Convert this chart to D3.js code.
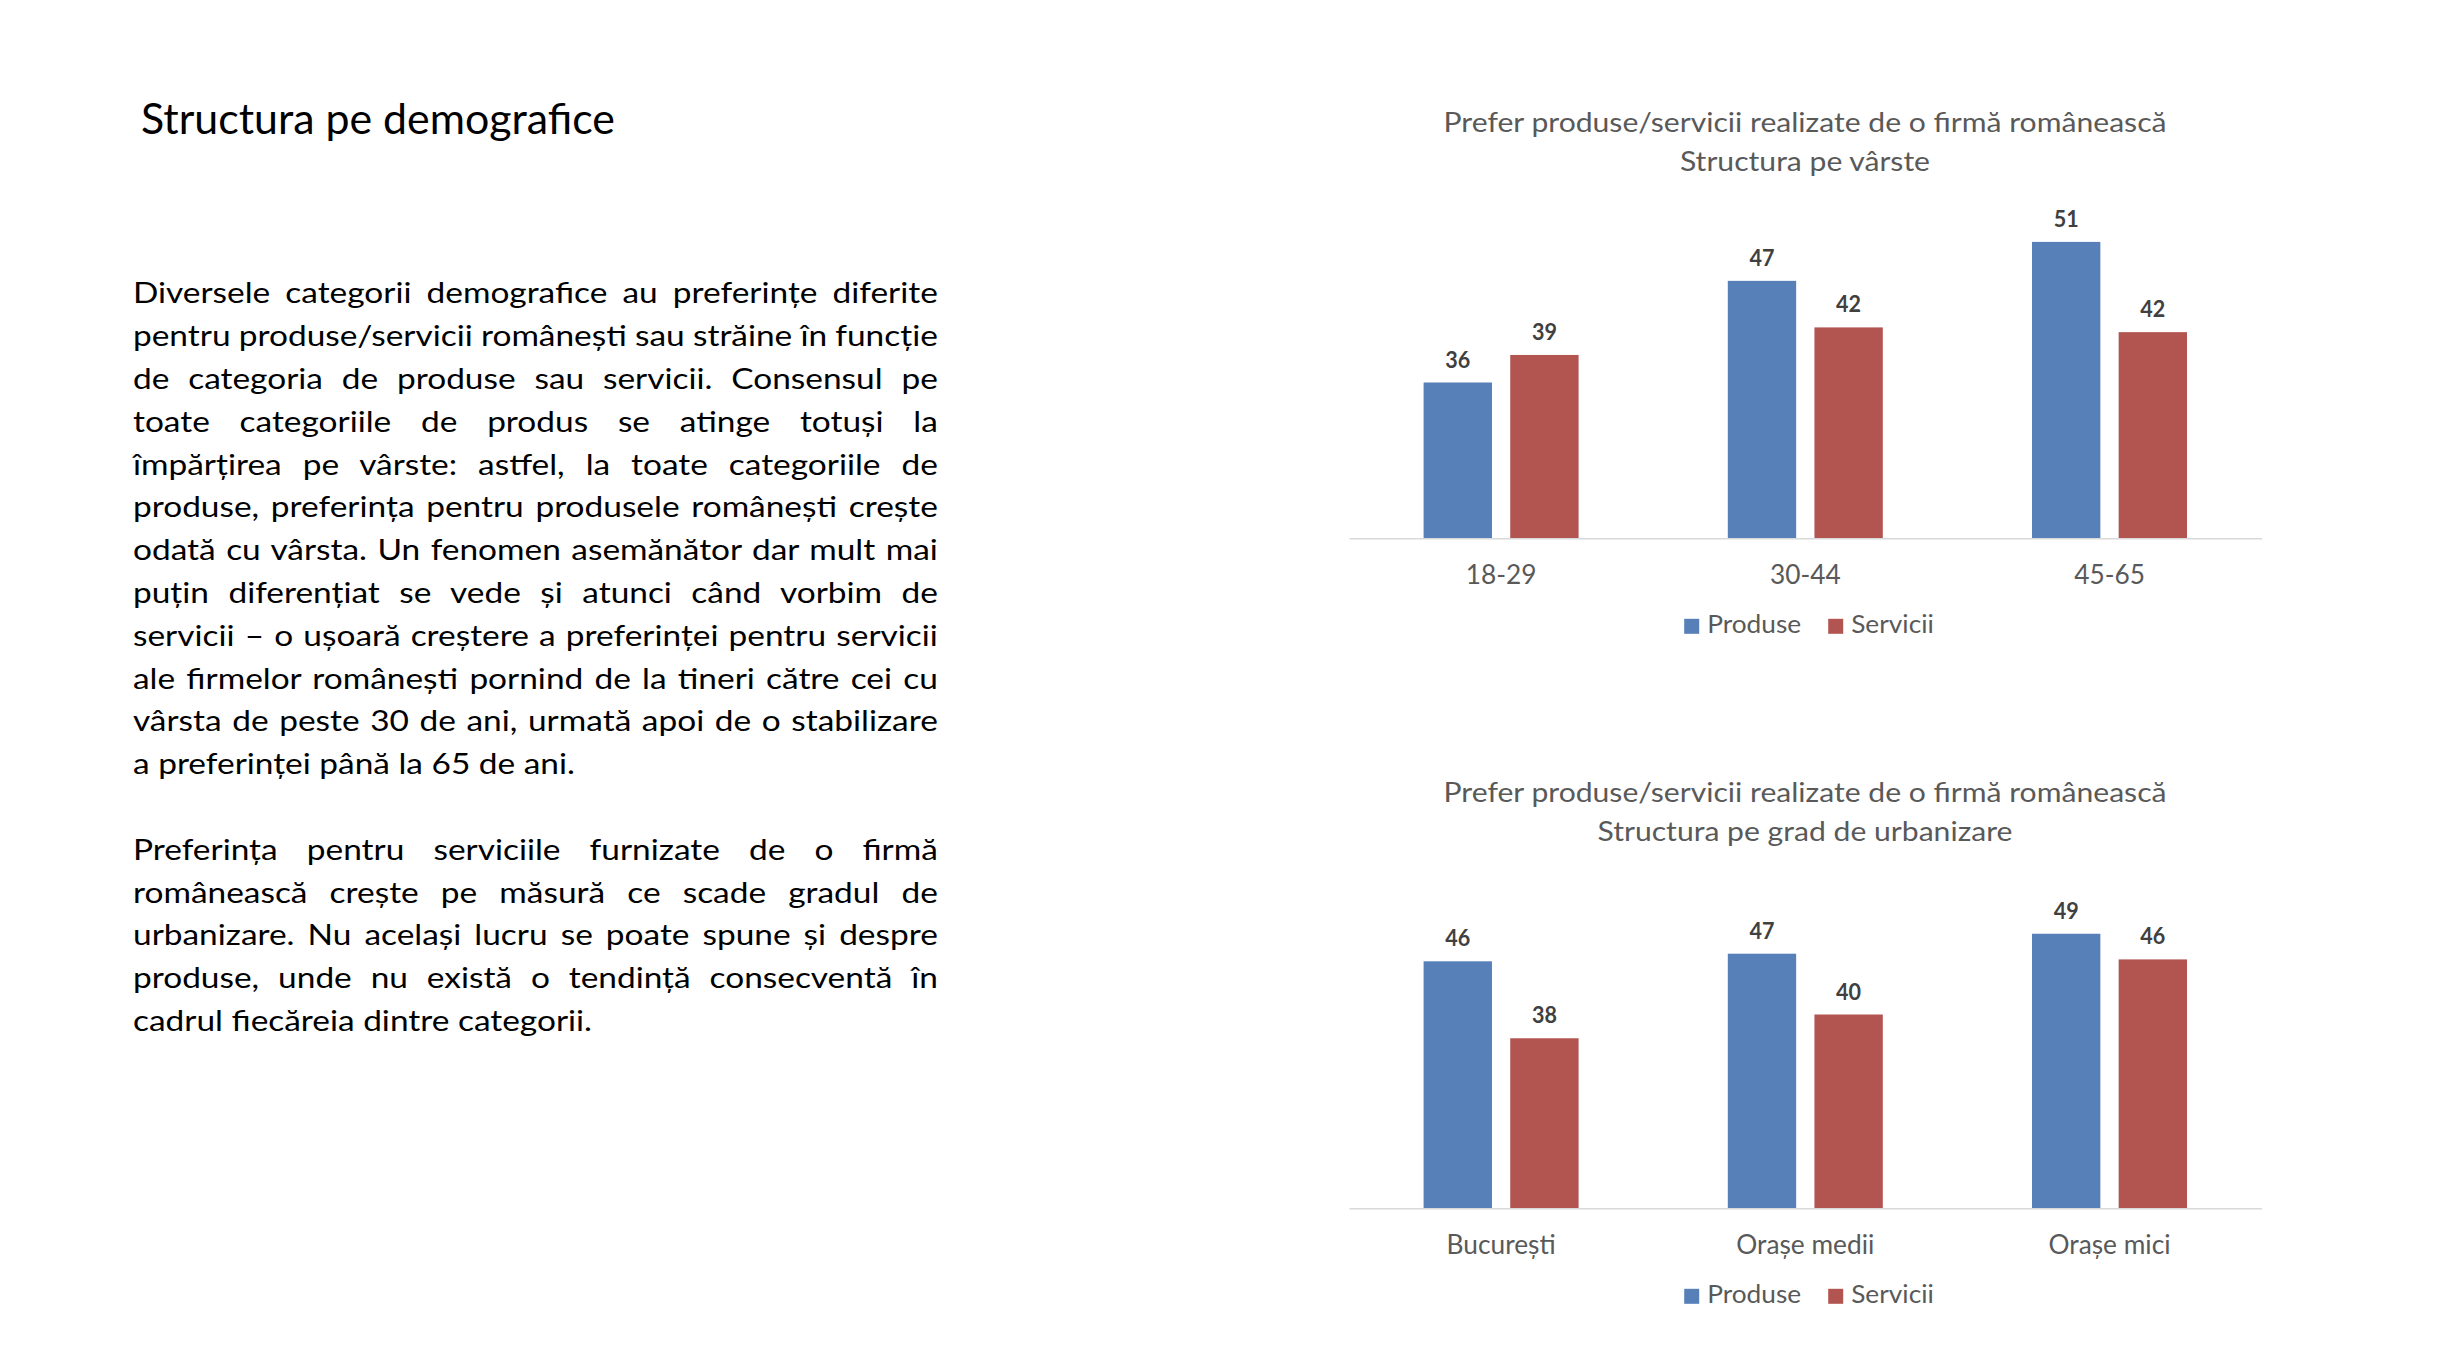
<!DOCTYPE html>
<html><head><meta charset="utf-8">
<script src="https://cdn.jsdelivr.net/npm/d3@7"></script>
<style>html,body{margin:0;padding:0;background:#fff;} svg{display:block;}</style>
</head><body>
<script>
// ---------------- DATA ----------------
const pageTitle = "Structura pe demografice";
const paragraph1 = [
  "Diversele categorii demografice au preferințe diferite",
  "pentru produse/servicii românești sau străine în funcție",
  "de categoria de produse sau servicii. Consensul pe",
  "toate categoriile de produs se atinge totuși la",
  "împărțirea pe vârste: astfel, la toate categoriile de",
  "produse, preferința pentru produsele românești crește",
  "odată cu vârsta. Un fenomen asemănător dar mult mai",
  "puțin diferențiat se vede și atunci când vorbim de",
  "servicii – o ușoară creștere a preferinței pentru servicii",
  "ale firmelor românești pornind de la tineri către cei cu",
  "vârsta de peste 30 de ani, urmată apoi de o stabilizare",
  "a preferinței până la 65 de ani."
];
const paragraph2 = [
  "Preferința pentru serviciile furnizate de o firmă",
  "românească crește pe măsură ce scade gradul de",
  "urbanizare. Nu același lucru se poate spune și despre",
  "produse, unde nu există o tendință consecventă în",
  "cadrul fiecăreia dintre categorii."
];
const chartTitle = "Prefer produse/servicii realizate de o firmă românească";
const ageSubtitle = "Structura pe vârste";
const urbanSubtitle = "Structura pe grad de urbanizare";
const seriesNames = ["Produse", "Servicii"];
const ageCategories = ["18-29", "30-44", "45-65"];
const ageProduse = [36.4, 47.1, 51.2];
const ageServicii = [39.3, 42.2, 41.7];
const urbanCategories = ["București", "Orașe medii", "Orașe mici"];
const urbanProduse = [46.0, 46.8, 48.9];
const urbanServicii = [37.9, 40.4, 46.2];
const axisDomain = [20, 60];

// ---------------- STYLE ----------------
const seriesColors = ["#5880B8", "#B25551"];
const FONT = "Lato, 'Open Sans', sans-serif";
const W = 2440, H = 1366;

const svg = d3.select("body").append("svg").attr("width", W).attr("height", H);
svg.append("rect").attr("width", W).attr("height", H).attr("fill", "#ffffff");

function measure(str, size, weight) {
  const t = svg.append("text").attr("font-family", FONT).attr("font-size", size)
    .attr("font-weight", weight || "normal").text(str);
  const w = t.node().getComputedTextLength();
  t.remove();
  return w;
}
function kFor(str, size, weight, target) { return target / measure(str, size, weight); }

function fitText(t, k) {
  const w = t.node().getComputedTextLength();
  t.attr("textLength", w * k).attr("lengthAdjust", "spacingAndGlyphs");
  return t;
}
function addText(g, str, x, y, opt) {
  const t = g.append("text").attr("x", x).attr("y", y)
    .attr("font-family", FONT).attr("font-size", opt.size)
    .attr("font-weight", opt.weight || "normal")
    .attr("fill", opt.fill || "#000")
    .attr("text-anchor", opt.anchor || "start")
    .text(str);
  if (opt.k) fitText(t, opt.k);
  return t;
}

// ---------------- LEFT: TITLE + TEXT ----------------
const titleSize = 42.5;
addText(svg, pageTitle, 141, 134, {size: titleSize, k: kFor(pageTitle, titleSize, "normal", 474)});

const pSize = 29.5;
const pLeft = 133, pRight = 938, pWidth = pRight - pLeft;
const kP = kFor(paragraph1[paragraph1.length - 1], pSize, "normal", 442);
const lineStep = 42.8;

function drawParagraph(lines, y0) {
  lines.forEach((line, i) => {
    const y = y0 + i * lineStep;
    const last = i === lines.length - 1;
    const words = line.split(" ");
    const natural = measure(line, pSize);
    let ws = 0;
    if (!last && words.length > 1) ws = (pWidth / kP - natural) / (words.length - 1);
    svg.append("text")
      .attr("transform", `translate(${pLeft},${y}) scale(${kP},1)`)
      .attr("font-family", FONT).attr("font-size", pSize).attr("fill", "#000")
      .style("word-spacing", ws + "px")
      .text(line);
  });
}
drawParagraph(paragraph1, 303.3);
drawParagraph(paragraph2, 303.3 + 13 * lineStep);

// ---------------- CHARTS ----------------
const ctSize = 27, catSize = 26, legSize = 25.5, lblSize = 23;
const kTitle = kFor(chartTitle, ctSize, "normal", 723);
const kCat = kFor("Orașe medii", catSize, "normal", 138);
const kLeg = kFor("Produse", legSize, "normal", 94);
const kLbl = kFor("36", lblSize, "bold", 25);

function drawChart(oy, subtitle, cats, prod, serv) {
  const g = svg.append("g").attr("transform", `translate(0,${oy})`);
  const x0 = d3.scaleBand().domain(cats).range([1349, 2261.6]);
  const x1 = d3.scaleBand().domain(seriesNames).range([0, x0.bandwidth()])
    .paddingInner(0.211).paddingOuter(0.861);
  const y = d3.scaleLinear().domain(axisDomain).range([538.3, 158.3]);
  const cx = 1805;

  addText(g, chartTitle, cx, 131.7, {size: ctSize, fill: "#595959", anchor: "middle", k: kTitle});
  addText(g, subtitle, cx, 171, {size: ctSize, fill: "#595959", anchor: "middle", k: kTitle});

  const rows = cats.map((c, i) => ({cat: c, vals: [prod[i], serv[i]]}));
  const groups = g.selectAll("g.grp").data(rows).join("g").attr("class", "grp")
    .attr("transform", d => `translate(${x0(d.cat)},0)`);
  groups.selectAll("rect").data(d => d.vals.map((v, j) => ({s: seriesNames[j], v, j})))
    .join("rect")
    .attr("x", d => x1(d.s)).attr("width", x1.bandwidth())
    .attr("y", d => y(d.v)).attr("height", d => y(axisDomain[0]) - y(d.v))
    .attr("fill", d => seriesColors[d.j]);
  groups.selectAll("text.lbl").data(d => d.vals.map((v, j) => ({s: seriesNames[j], v, j})))
    .join("text").attr("class", "lbl")
    .attr("x", d => x1(d.s) + x1.bandwidth() / 2).attr("y", d => y(d.v) - 15)
    .attr("text-anchor", "middle").attr("font-family", FONT).attr("font-size", lblSize)
    .attr("font-weight", "bold").attr("fill", "#404040")
    .text(d => d3.format(".0f")(d.v))
    .each(function() { fitText(d3.select(this), kLbl); });

  const ax = g.append("g").attr("transform", `translate(0,${y(axisDomain[0])})`)
    .call(d3.axisBottom(x0).tickSize(0).tickSizeOuter(0));
  ax.select(".domain").attr("stroke", "#d9d9d9").attr("stroke-width", 1.5);
  ax.selectAll(".tick text").attr("y", 45.7).attr("dy", 0)
    .attr("font-family", FONT).attr("font-size", catSize).attr("fill", "#595959")
    .each(function() { fitText(d3.select(this), kCat); });

  // legend
  const sq = 15, gapT = 8, gapItem = 27;
  const widths = seriesNames.map(s => measure(s, legSize) * kLeg);
  const total = d3.sum(widths) + seriesNames.length * (sq + gapT) + gapItem * (seriesNames.length - 1);
  let lx = 1809 - total / 2;
  const legY = 633.3;
  seriesNames.forEach((s, j) => {
    g.append("rect").attr("x", lx).attr("y", legY - 14.5).attr("width", sq).attr("height", sq)
      .attr("fill", seriesColors[j]);
    addText(g, s, lx + sq + gapT, legY, {size: legSize, fill: "#595959", k: kLeg});
    lx += sq + gapT + widths[j] + gapItem;
  });
}

drawChart(0, ageSubtitle, ageCategories, ageProduse, ageServicii);
drawChart(670, urbanSubtitle, urbanCategories, urbanProduse, urbanServicii);
</script>
</body></html>
